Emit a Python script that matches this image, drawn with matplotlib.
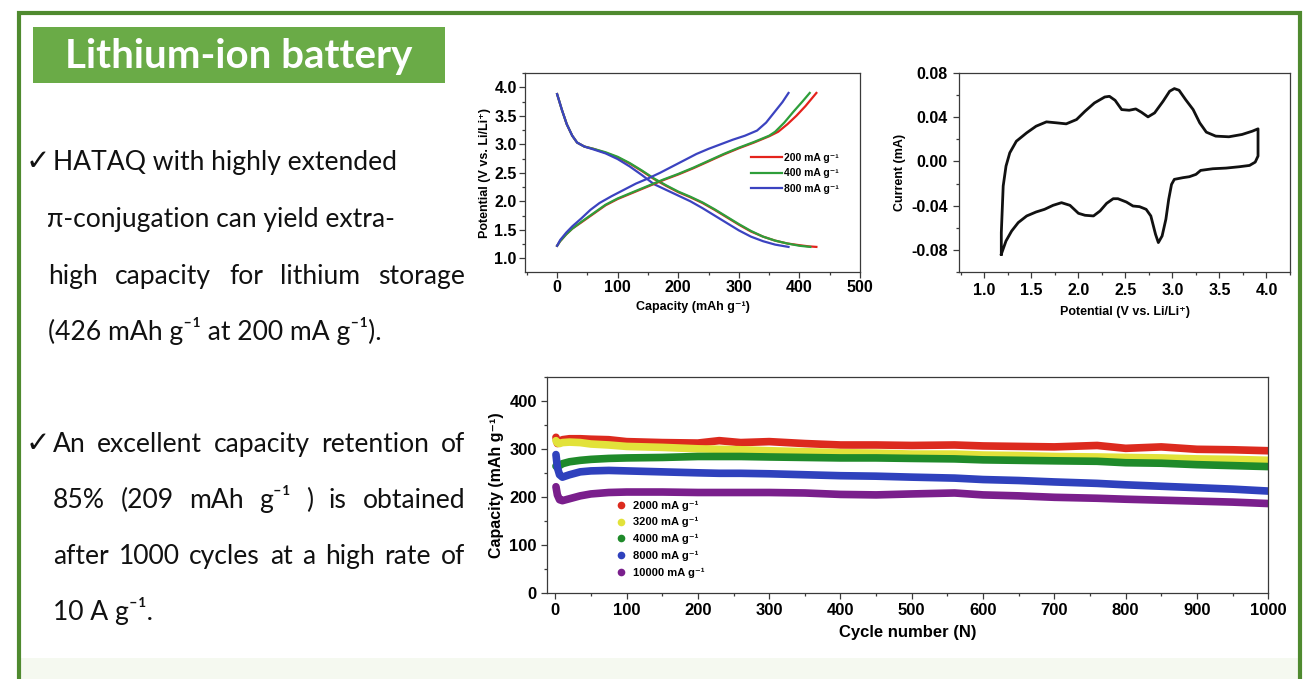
import matplotlib
matplotlib.use('Agg')
import matplotlib.pyplot as plt
from matplotlib.patches import Rectangle
from matplotlib.lines import Line2D
from matplotlib.ticker import MultipleLocator

plt.rcParams['font.family'] = ['Liberation Sans', 'DejaVu Sans']
plt.rcParams['font.weight'] = 'bold'
plt.rcParams['axes.labelweight'] = 'bold'

# ---------------- data: charge/discharge profiles ----------------
dis200_cap = [0, 8, 16, 25, 33, 45, 60, 80, 100, 120, 140, 160, 180, 200, 220, 240, 260, 280, 300, 320, 340, 360, 380, 400, 415, 428]
dis200_v = [3.88, 3.6, 3.35, 3.15, 3.03, 2.96, 2.92, 2.85, 2.77, 2.66, 2.53, 2.39, 2.27, 2.16, 2.07, 1.97, 1.85, 1.72, 1.59, 1.47, 1.38, 1.31, 1.26, 1.23, 1.21, 1.2]
dis400_cap = [0, 8, 16, 25, 33, 45, 60, 80, 100, 120, 140, 160, 180, 200, 220, 240, 260, 280, 300, 320, 340, 360, 380, 400, 418]
dis400_v = [3.88, 3.6, 3.35, 3.15, 3.03, 2.96, 2.92, 2.86, 2.78, 2.67, 2.54, 2.4, 2.28, 2.17, 2.08, 1.98, 1.86, 1.73, 1.6, 1.48, 1.38, 1.31, 1.26, 1.22, 1.2]
dis800_cap = [0, 8, 16, 25, 33, 45, 60, 80, 100, 120, 140, 160, 180, 200, 220, 240, 260, 280, 300, 320, 340, 360, 382]
dis800_v = [3.88, 3.6, 3.35, 3.15, 3.03, 2.96, 2.91, 2.84, 2.74, 2.61, 2.46, 2.3, 2.2, 2.1, 2.0, 1.88, 1.75, 1.62, 1.49, 1.38, 1.3, 1.24, 1.2]

chg200_cap = [0, 5, 15, 25, 40, 60, 80, 100, 125, 150, 175, 200, 225, 250, 275, 300, 325, 350, 365, 380, 395, 410, 428]
chg200_v = [1.22, 1.3, 1.42, 1.52, 1.63, 1.78, 1.93, 2.04, 2.15, 2.26, 2.37, 2.47, 2.58, 2.7, 2.82, 2.93, 3.03, 3.14, 3.22, 3.35, 3.5, 3.67, 3.9]
chg400_cap = [0, 5, 15, 25, 40, 60, 80, 100, 125, 150, 175, 200, 225, 250, 275, 300, 325, 350, 360, 375, 390, 405, 417]
chg400_v = [1.22, 1.3, 1.42, 1.52, 1.64, 1.79, 1.94, 2.05, 2.16, 2.27, 2.38, 2.48, 2.59, 2.71, 2.83, 2.94, 3.04, 3.15, 3.22, 3.38, 3.57, 3.75, 3.9]
chg800_cap = [0, 5, 15, 25, 40, 55, 70, 90, 110, 130, 150, 170, 190, 210, 230, 250, 270, 290, 310, 330, 345, 360, 372, 382]
chg800_v = [1.22, 1.32, 1.45, 1.56, 1.7, 1.85, 1.97, 2.09, 2.2, 2.31, 2.4, 2.5, 2.61, 2.72, 2.83, 2.92, 3.0, 3.08, 3.15, 3.24, 3.38, 3.58, 3.74, 3.9]

rate_labels = ['200 mA g⁻¹', '400 mA g⁻¹', '800 mA g⁻¹']

# ---------------- data: cyclic voltammogram ----------------
cv_v = [1.18, 1.18, 1.19, 1.20, 1.23, 1.27, 1.34, 1.45, 1.55, 1.66, 1.77, 1.87, 1.98, 2.07, 2.17, 2.28, 2.33, 2.39,
        2.46, 2.54, 2.61, 2.67, 2.74, 2.81, 2.90, 2.97, 3.02, 3.07, 3.14, 3.22, 3.29, 3.36, 3.46, 3.60, 3.74, 3.85,
        3.91, 3.91, 3.91, 3.88, 3.82, 3.71, 3.57, 3.43, 3.30, 3.25, 3.18, 3.11, 3.02, 2.99, 2.96, 2.93, 2.89, 2.85,
        2.82, 2.77, 2.72, 2.65, 2.58, 2.51, 2.42, 2.37, 2.30, 2.23, 2.16, 2.07, 2.00, 1.91, 1.82, 1.73, 1.64, 1.55,
        1.45, 1.36, 1.29, 1.23, 1.18]
cv_i = [-0.0839, -0.0644, -0.0433, -0.0222, -0.0042, 0.0078, 0.0183, 0.0259, 0.0319, 0.0358, 0.0349, 0.0340,
        0.0379, 0.0454, 0.0529, 0.0583, 0.0589, 0.0553, 0.0469, 0.0463, 0.0475, 0.0445, 0.0403, 0.0439, 0.0544,
        0.0635, 0.0659, 0.0644, 0.0559, 0.0469, 0.0349, 0.0265, 0.0229, 0.0223, 0.0244, 0.0274, 0.0295, 0.0138,
        0.0049, -0.0006, -0.0036, -0.0048, -0.0060, -0.0066, -0.0081, -0.0117, -0.0138, -0.0147, -0.0162,
        -0.0208, -0.0343, -0.0523, -0.0674, -0.0734, -0.0659, -0.0493, -0.0433, -0.0409, -0.0403, -0.0367,
        -0.0337, -0.0337, -0.0379, -0.0448, -0.0493, -0.0487, -0.0469, -0.0397, -0.0373, -0.0397, -0.0433,
        -0.0457, -0.0493, -0.0553, -0.0629, -0.0719, -0.0839]

# ---------------- data: long cycling ----------------
cycles = [1, 3, 6, 10, 20, 35, 50, 75, 100, 150, 200, 230, 260, 300, 350, 400, 450, 500, 560, 600, 650, 700, 760, 800, 850, 900, 950, 1000]
cap_2000 = [325, 312, 316, 320, 322, 322, 321, 320, 316, 314, 313, 318, 314, 316, 312, 309, 309, 308, 309, 307, 306, 305, 308, 302, 305, 300, 299, 297]
cap_3200 = [318, 313, 312, 314, 315, 314, 311, 309, 306, 304, 301, 300, 299, 297, 295, 293, 292, 290, 290, 288, 287, 285, 284, 283, 282, 280, 279, 277]
cap_4000 = [265, 262, 266, 270, 274, 277, 279, 281, 282, 283, 285, 285, 285, 284, 283, 282, 282, 281, 280, 278, 277, 276, 275, 272, 271, 268, 266, 264]
cap_8000 = [289, 262, 247, 242, 247, 253, 255, 256, 255, 253, 251, 250, 250, 249, 247, 245, 244, 242, 240, 237, 235, 232, 229, 226, 223, 220, 217, 213]
cap_10000 = [222, 205, 195, 193, 197, 203, 207, 210, 211, 211, 210, 210, 210, 210, 209, 206, 205, 207, 209, 205, 203, 200, 198, 196, 194, 192, 190, 187]
cyc_labels = ['2000 mA g⁻¹', '3200 mA g⁻¹', '4000 mA g⁻¹', '8000 mA g⁻¹', '10000 mA g⁻¹']

# ---------------- text ----------------
title_text = 'Lithium-ion battery'
bullet1 = ['HATAQ with highly extended', 'π-conjugation can yield extra-',
           'high capacity for lithium storage', '(426 mAh g⁻¹ at 200 mA g⁻¹).']
bullet2 = ['An excellent capacity retention of', '85% (209 mAh g⁻¹ ) is obtained',
           'after 1000 cycles at a high rate of', '10 A g⁻¹.']

# ---------------- figure ----------------
W, H = 1309, 679
fig = plt.figure(figsize=(W / 100, H / 100), dpi=100)
fig.patch.set_facecolor('white')


def fx(px):
    return px / W


def fy(py):
    return 1 - py / H


BORDER = '#4f8a2f'
TITLE_BG = '#6aab47'

# faint strip at bottom
fig.add_artist(Rectangle((fx(19), 0), fx(1300) - fx(19), (H - 658) / H, transform=fig.transFigure,
                         facecolor='#f5f9f0', edgecolor='none', zorder=0))
# border
fig.add_artist(Line2D([fx(19), fx(19), fx(1300), fx(1300)], [fy(690), fy(13), fy(13), fy(690)],
                      transform=fig.transFigure, color=BORDER, lw=3.0, solid_joinstyle='miter', zorder=5))
# title box
fig.add_artist(Rectangle((fx(33), fy(83)), fx(445) - fx(33), (83 - 27) / H, transform=fig.transFigure,
                         facecolor=TITLE_BG, edgecolor='none', zorder=1))

renderer = fig.canvas.get_renderer()
BFONT = ['Lato', 'DejaVu Sans']


def width_px(s, fs, weight='normal', family=BFONT):
    t = fig.text(0, 0, s, fontsize=fs, family=family, fontweight=weight)
    w = t.get_window_extent(renderer=renderer).width
    t.remove()
    return w


# title
tfs = 20 * 348 / width_px(title_text, 20, 'bold')
fig.text(fx(239), fy(68), title_text, fontsize=tfs, family=BFONT, fontweight='bold', color='white',
         ha='center', va='baseline', zorder=2)

bfs = 20 * 345 / width_px(bullet1[0], 20)


def draw_line(s, x0, ybase, x1=None):
    if x1 is None:
        fig.text(fx(x0), fy(ybase), s, fontsize=bfs, family=BFONT, fontweight='normal',
                 ha='left', va='baseline', color='#111111')
        return
    words = s.split(' ')
    widths = [width_px(w, bfs) for w in words]
    gap = (x1 - x0 - sum(widths)) / (len(words) - 1)
    x = x0
    for w, wd in zip(words, widths):
        fig.text(fx(x), fy(ybase), w, fontsize=bfs, family=BFONT, fontweight='normal',
                 ha='left', va='baseline', color='#111111')
        x += wd + gap


for yb in (170, 452):
    fig.text(fx(26), fy(yb), '✓', fontsize=bfs * 1.1, family=['DejaVu Sans'], ha='left', va='baseline',
             color='#111111')

draw_line(bullet1[0], 53, 170)
draw_line(bullet1[1], 47, 227)
draw_line(bullet1[2], 48, 284, 465)
draw_line(bullet1[3], 48, 340)
draw_line(bullet2[0], 53, 452, 465)
draw_line(bullet2[1], 53, 508, 465)
draw_line(bullet2[2], 53, 564, 465)
draw_line(bullet2[3], 53, 620)


def style_axes(ax, tfs, pad=2):
    for sp in ax.spines.values():
        sp.set_color('#3a3a3a')
        sp.set_linewidth(0.9)
    ax.tick_params(which='both', direction='out', top=False, right=False, width=0.9, color='#3a3a3a')
    ax.tick_params(which='major', length=4, labelsize=tfs, pad=pad)
    ax.tick_params(which='minor', length=2.5)
    for lab in ax.get_xticklabels() + ax.get_yticklabels():
        lab.set_fontweight('bold')


# ---------- panel 1: charge/discharge ----------
ax1 = fig.add_axes([fx(525), fy(272), fx(860) - fx(525), (272 - 73) / H])
c_red, c_grn, c_blu = '#e4231c', '#2e9e3a', '#3b43c0'
ax1.plot(dis200_cap, dis200_v, color=c_red, lw=1.6, label=rate_labels[0])
ax1.plot(dis400_cap, dis400_v, color=c_grn, lw=1.6, label=rate_labels[1])
ax1.plot(dis800_cap, dis800_v, color=c_blu, lw=1.6, label=rate_labels[2])
ax1.plot(chg200_cap, chg200_v, color=c_red, lw=1.6)
ax1.plot(chg400_cap, chg400_v, color=c_grn, lw=1.6)
ax1.plot(chg800_cap, chg800_v, color=c_blu, lw=1.6)
ax1.set_xlim(-53, 500)
ax1.set_ylim(0.76, 4.25)
ax1.xaxis.set_major_locator(MultipleLocator(100))
ax1.xaxis.set_minor_locator(MultipleLocator(50))
ax1.yaxis.set_major_locator(MultipleLocator(0.5))
ax1.yaxis.set_minor_locator(MultipleLocator(0.25))
ax1.yaxis.set_major_formatter(matplotlib.ticker.FormatStrFormatter('%.1f'))
style_axes(ax1, 11.5)
ax1.set_xlabel('Capacity (mAh g⁻¹)', fontsize=9, labelpad=4)
ax1.set_ylabel('Potential (V vs. Li/Li⁺)', fontsize=9, labelpad=2)
ax1.legend(loc='upper left', bbox_to_anchor=(0.675, 0.6), frameon=False,
           handlelength=3.0, handletextpad=0.2, labelspacing=0.55, borderpad=0, borderaxespad=0,
           prop={'weight': 'bold', 'size': 7.5})

# ---------- panel 2: CV ----------
ax2 = fig.add_axes([fx(959), fy(272), fx(1290) - fx(959), (272 - 73) / H])
ax2.plot(cv_v, cv_i, color='#111111', lw=2.0, solid_joinstyle='round')
ax2.set_xlim(0.73, 4.25)
ax2.set_ylim(-0.1, 0.08)
ax2.xaxis.set_major_locator(MultipleLocator(0.5))
ax2.xaxis.set_minor_locator(MultipleLocator(0.25))
ax2.yaxis.set_major_locator(MultipleLocator(0.04))
ax2.yaxis.set_minor_locator(MultipleLocator(0.02))
ax2.xaxis.set_major_formatter(matplotlib.ticker.FormatStrFormatter('%.1f'))
ax2.yaxis.set_major_formatter(matplotlib.ticker.FormatStrFormatter('%.2f'))
style_axes(ax2, 11.5, pad=4)
ax2.set_xlabel('Potential (V vs. Li/Li⁺)', fontsize=9, labelpad=6)
ax2.set_ylabel('Current (mA)', fontsize=9, labelpad=4)

# ---------- panel 3: cycling ----------
ax3 = fig.add_axes([fx(546.7), fy(593.3), fx(1268.3) - fx(546.7), (593.3 - 377.3) / H])
cyc_colors = ['#dc2a1e', '#e2e23a', '#1f8a2a', '#2f41bd', '#7a1f8c']
for vals, col in zip([cap_2000, cap_3200, cap_4000, cap_8000, cap_10000], cyc_colors):
    ax3.plot(cycles, vals, color=col, lw=5.5, solid_capstyle='round', solid_joinstyle='round')
ax3.set_xlim(-12, 1000)
ax3.set_ylim(0, 450)
ax3.xaxis.set_major_locator(MultipleLocator(100))
ax3.xaxis.set_minor_locator(MultipleLocator(50))
ax3.yaxis.set_major_locator(MultipleLocator(100))
ax3.yaxis.set_minor_locator(MultipleLocator(50))
style_axes(ax3, 12, pad=3)
ax3.set_xlabel('Cycle number (N)', fontsize=12, labelpad=5)
ax3.set_ylabel('Capacity (mAh g⁻¹)', fontsize=11.5, labelpad=4)
handles = [Line2D([], [], ls='none', marker='o', markersize=5.5, color=c, markeredgewidth=0) for c in cyc_colors]
ax3.legend(handles, cyc_labels, loc='upper left', bbox_to_anchor=(0.095, 0.43), frameon=False,
           handlelength=1.0, handletextpad=0.6, labelspacing=0.6, borderpad=0, borderaxespad=0,
           prop={'weight': 'bold', 'size': 8})

fig.savefig('out.png', dpi=100, facecolor='white')
